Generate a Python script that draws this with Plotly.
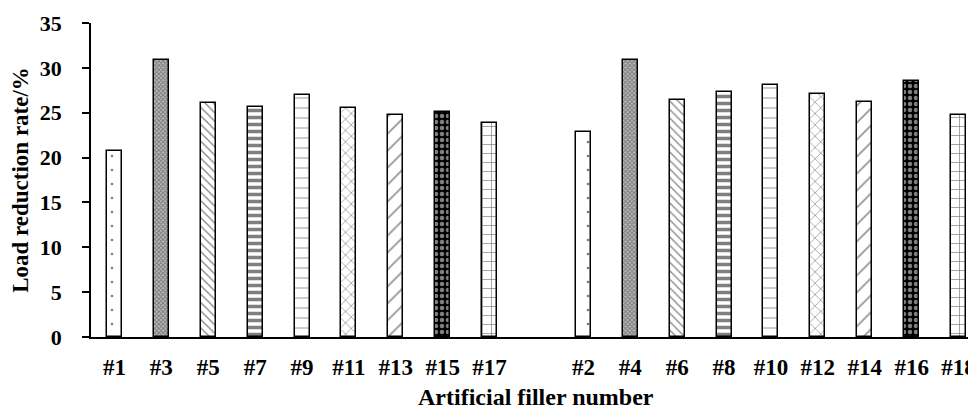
import plotly.graph_objects as go

# ---- data ----
categories = ["#1", "#3", "#5", "#7", "#9", "#11", "#13", "#15", "#17", " ",
              "#2", "#4", "#6", "#8", "#10", "#12", "#14", "#16", "#18"]
odd_values = [20.7, 30.9, 26.1, 25.6, 27.0, 25.5, 24.8, 25.1, 23.8]
even_values = [22.9, 30.9, 26.4, 27.3, 28.1, 27.1, 26.2, 28.5, 24.7]
values = odd_values + [None] + even_values
y_ticks = [0, 5, 10, 15, 20, 25, 30, 35]

# ---- styles (one per filler pattern type) ----
p_shape = [".", "x", "\\", "-", "-", "x", "/", ".", "+"]
p_size = [14, 3, 6, 7, 10, 8, 12, 6, 9]
p_solid = [0.03, 0.5, 0.2, 0.5, 0.08, 0.15, 0.12, 0.45, 0.15]
p_fg = ["black", "#333333", "black", "black", "black", "black", "black", "white", "black"]
p_bg = ["white", "#bbbbbb", "white", "white", "white", "white", "white", "black", "white"]

shapes = p_shape + [""] + p_shape
sizes = p_size + [8] + p_size
solids = p_solid + [0.3] + p_solid
fgs = p_fg + ["black"] + p_fg
bgs = p_bg + ["white"] + p_bg

FONT = "Liberation Serif"

fig = go.Figure()
fig.add_trace(go.Bar(
    x=categories, y=values, width=0.32,
    marker=dict(
        color="white",
        line=dict(color="black", width=1.5),
        pattern=dict(shape=shapes, size=sizes, solidity=solids,
                     fgcolor=fgs, bgcolor=bgs, fillmode="overlay"),
    ),
    showlegend=False,
))

# page body has an 8px margin, so the figure is sized/placed to compensate
fig.update_layout(
    width=968, height=402,
    margin=dict(l=83, r=0, t=15, b=73),
    plot_bgcolor="white", paper_bgcolor="white",
    font=dict(family=FONT, color="black"),
    bargap=0,
)
fig.update_xaxes(
    type="category", categoryorder="array", categoryarray=categories,
    range=[-0.5, 18.33],
    showline=True, linecolor="black", linewidth=1.5,
    showgrid=False, ticks="outside", ticklen=9, tickcolor="rgba(0,0,0,0)",
    tickfont=dict(family=FONT, size=23, color="black", weight="bold"),
)
fig.update_yaxes(
    range=[0, 35], tickvals=y_ticks,
    showline=True, linecolor="black", linewidth=1.5,
    showgrid=False, zeroline=False,
    ticks="outside", ticklen=7, tickwidth=1.5, tickcolor="black",
    ticklabelstandoff=16,
    tickfont=dict(family=FONT, size=22, color="black", weight="bold"),
    title=dict(text="Load reduction rate/%", standoff=12,
               font=dict(family=FONT, size=23, color="black", weight="bold")),
)
fig.add_annotation(
    x=9, y=0, xref="x", yref="paper", yshift=-60, text="Artificial filler number",
    showarrow=False, yanchor="middle",
    font=dict(family=FONT, size=24, color="black", weight="bold"),
)

fig.write_html("out.html")
